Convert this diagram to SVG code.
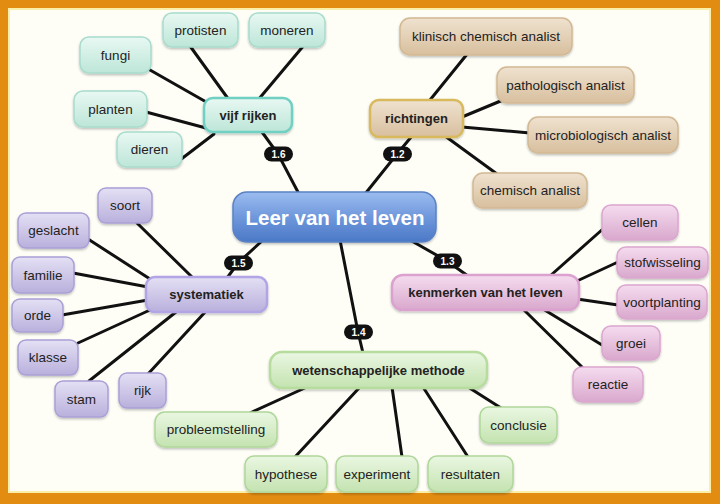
<svg xmlns="http://www.w3.org/2000/svg" width="720" height="504" viewBox="0 0 720 504">
<defs>
<linearGradient id="gTeal" x1="0" y1="0" x2="0" y2="1"><stop offset="0" stop-color="#e8f8f2"/><stop offset="1" stop-color="#bde6d8"/></linearGradient>
<linearGradient id="gTan" x1="0" y1="0" x2="0" y2="1"><stop offset="0" stop-color="#efe2cf"/><stop offset="1" stop-color="#d8bf9e"/></linearGradient>
<linearGradient id="gLav" x1="0" y1="0" x2="0" y2="1"><stop offset="0" stop-color="#e4e0f4"/><stop offset="1" stop-color="#b9b0dc"/></linearGradient>
<linearGradient id="gPink" x1="0" y1="0" x2="0" y2="1"><stop offset="0" stop-color="#f5dcef"/><stop offset="1" stop-color="#d9a8cd"/></linearGradient>
<linearGradient id="gGreen" x1="0" y1="0" x2="0" y2="1"><stop offset="0" stop-color="#eaf7e2"/><stop offset="1" stop-color="#c4e3b0"/></linearGradient>
<linearGradient id="gBlue" x1="0" y1="0" x2="0" y2="1"><stop offset="0" stop-color="#9bbcef"/><stop offset="0.5" stop-color="#6f98dc"/><stop offset="1" stop-color="#4b78c6"/></linearGradient>
<filter id="sh" x="-20%" y="-20%" width="140%" height="150%"><feDropShadow dx="0" dy="1.5" stdDeviation="1.2" flood-color="#000" flood-opacity="0.25"/></filter>
</defs>
<style>
.bg{fill:#fefef7}
.teal{fill:url(#gTeal);stroke:#a8dccd;stroke-width:1.5}
.tan{fill:url(#gTan);stroke:#d2b994;stroke-width:1.5}
.lav{fill:url(#gLav);stroke:#aaa0d6;stroke-width:1.5}
.pink{fill:url(#gPink);stroke:#dba6cf;stroke-width:1.5}
.green{fill:url(#gGreen);stroke:#b0d79a;stroke-width:1.5}
.box{filter:url(#sh)}
.hubteal{stroke:#6fd0c2;stroke-width:2.5}
.hubtan{stroke:#d8b95c;stroke-width:2.5}
.hublav{stroke:#b3a4e6;stroke-width:2.5}
.hubpink{stroke:#dca2cf;stroke-width:2.5}
.hubgreen{stroke:#b6dc9e;stroke-width:2.5}
.center{fill:url(#gBlue);stroke:#5b82c4;stroke-width:1.5}
.t{font-family:"Liberation Sans",Arial,sans-serif;font-size:13.5px;fill:#222;text-anchor:middle;dominant-baseline:central}
.tb{font-family:"Liberation Sans",Arial,sans-serif;font-size:13px;font-weight:bold;fill:#222;text-anchor:middle;dominant-baseline:central}
.tc{font-family:"Liberation Sans",Arial,sans-serif;font-size:20.5px;font-weight:bold;fill:#fff;text-anchor:middle;dominant-baseline:central}
.ln{stroke:#111;stroke-width:3;stroke-linecap:round;fill:none}
.badge{fill:#111}
.bt{font-family:"Liberation Sans",Arial,sans-serif;font-size:10px;font-weight:bold;fill:#fff;text-anchor:middle;dominant-baseline:central}
</style>
<rect x="0" y="0" width="720" height="504" fill="#e28c12"/>
<rect class="bg" x="8" y="8" width="703" height="485"/>
<rect x="9" y="9" width="701" height="483" fill="none" stroke="#fbeea8" stroke-width="2"/>

<g id="connectors">
<line class="ln" x1="190" y1="46" x2="229" y2="100"/>
<line class="ln" x1="305" y1="44" x2="258" y2="100"/>
<line class="ln" x1="150" y1="70" x2="208" y2="103"/>
<line class="ln" x1="146" y1="112" x2="206" y2="128"/>
<line class="ln" x1="180" y1="160" x2="214" y2="134"/>
<polyline class="ln" points="262,132 278,154 299,194"/>
<line class="ln" x1="468" y1="53" x2="430" y2="100"/>
<line class="ln" x1="503" y1="100" x2="462" y2="117"/>
<line class="ln" x1="462" y1="127" x2="530" y2="133"/>
<line class="ln" x1="445" y1="136" x2="497" y2="174"/>
<polyline class="ln" points="412,136 397,154 365,194"/>
<polyline class="ln" points="263,240 238,263 227,278"/>
<line class="ln" x1="137" y1="223" x2="192" y2="277"/>
<line class="ln" x1="88" y1="239" x2="150" y2="279"/>
<line class="ln" x1="73" y1="273" x2="148" y2="287"/>
<line class="ln" x1="62" y1="315" x2="148" y2="300"/>
<line class="ln" x1="78" y1="343" x2="150" y2="310"/>
<line class="ln" x1="89" y1="381" x2="176" y2="312"/>
<line class="ln" x1="148" y1="374" x2="207" y2="310"/>
<polyline class="ln" points="410,240 447,261 468,276"/>
<line class="ln" x1="604" y1="228" x2="550" y2="276"/>
<line class="ln" x1="618" y1="262" x2="577" y2="281"/>
<line class="ln" x1="577" y1="299" x2="618" y2="305"/>
<line class="ln" x1="543" y1="309" x2="602" y2="345"/>
<line class="ln" x1="523" y1="309" x2="582" y2="367"/>
<polyline class="ln" points="340,240 358,332 363,353"/>
<line class="ln" x1="250" y1="413" x2="307" y2="387"/>
<line class="ln" x1="295" y1="457" x2="360" y2="387"/>
<line class="ln" x1="402" y1="457" x2="392" y2="387"/>
<line class="ln" x1="468" y1="457" x2="423" y2="387"/>
<line class="ln" x1="468" y1="387" x2="501" y2="408"/>
</g>

<g id="badge-1-6"><rect class="badge" x="264" y="146.5" width="29" height="15" rx="7.5"/><text class="bt" x="278.5" y="154">1.6</text></g>
<g id="badge-1-2"><rect class="badge" x="383" y="146.5" width="29" height="15" rx="7.5"/><text class="bt" x="397.5" y="154">1.2</text></g>
<g id="badge-1-5"><rect class="badge" x="224" y="255.5" width="29" height="15" rx="7.5"/><text class="bt" x="238.5" y="263">1.5</text></g>
<g id="badge-1-3"><rect class="badge" x="433" y="253.5" width="29" height="15" rx="7.5"/><text class="bt" x="447.5" y="261">1.3</text></g>
<g id="badge-1-4"><rect class="badge" x="344" y="324.5" width="29" height="15" rx="7.5"/><text class="bt" x="358.5" y="332">1.4</text></g>

<g id="center"><rect class="center box" x="233" y="192" width="203" height="50" rx="14"/><text class="tc" x="335" y="217">Leer van het leven</text></g>

<g id="vijf-rijken"><rect class="teal hubteal box" x="204" y="98" width="88" height="34" rx="9"/><text class="tb" x="248" y="115">vijf rijken</text></g>
<g id="protisten"><rect class="teal box" x="163" y="13" width="75" height="34" rx="9"/><text class="t" x="200.5" y="30">protisten</text></g>
<g id="moneren"><rect class="teal box" x="249" y="13" width="76" height="34" rx="9"/><text class="t" x="287" y="30">moneren</text></g>
<g id="fungi"><rect class="teal box" x="80" y="37" width="71" height="36" rx="9"/><text class="t" x="115.5" y="55">fungi</text></g>
<g id="planten"><rect class="teal box" x="74" y="91" width="73" height="36" rx="9"/><text class="t" x="110.5" y="109">planten</text></g>
<g id="dieren"><rect class="teal box" x="117" y="132" width="65" height="35" rx="9"/><text class="t" x="149.5" y="149.5">dieren</text></g>

<g id="richtingen"><rect class="tan hubtan box" x="370" y="100" width="93" height="37" rx="9"/><text class="tb" x="416.5" y="118.5">richtingen</text></g>
<g id="klinisch"><rect class="tan box" x="400" y="18" width="172" height="37" rx="10"/><text class="t" x="486" y="36.5">klinisch chemisch analist</text></g>
<g id="pathologisch"><rect class="tan box" x="497" y="67" width="137" height="36" rx="10"/><text class="t" x="565.5" y="85">pathologisch analist</text></g>
<g id="microbiologisch"><rect class="tan box" x="528" y="117" width="150" height="36" rx="10"/><text class="t" x="603" y="135">microbiologisch analist</text></g>
<g id="chemisch"><rect class="tan box" x="473" y="173" width="114" height="35" rx="10"/><text class="t" x="530" y="190.5">chemisch analist</text></g>

<g id="systematiek"><rect class="lav hublav box" x="146" y="277" width="121" height="35" rx="9"/><text class="tb" x="206.5" y="294.5">systematiek</text></g>
<g id="soort"><rect class="lav box" x="98" y="188" width="54" height="35" rx="8"/><text class="t" x="125" y="205.5">soort</text></g>
<g id="geslacht"><rect class="lav box" x="18" y="213" width="71" height="35" rx="8"/><text class="t" x="53.5" y="230.5">geslacht</text></g>
<g id="familie"><rect class="lav box" x="12" y="257" width="62" height="36" rx="8"/><text class="t" x="43" y="275">familie</text></g>
<g id="orde"><rect class="lav box" x="12" y="299" width="51" height="33" rx="8"/><text class="t" x="37.5" y="315.5">orde</text></g>
<g id="klasse"><rect class="lav box" x="18" y="340" width="60" height="35" rx="8"/><text class="t" x="48" y="357.5">klasse</text></g>
<g id="stam"><rect class="lav box" x="55" y="381" width="53" height="36" rx="8"/><text class="t" x="81.5" y="399">stam</text></g>
<g id="rijk"><rect class="lav box" x="119" y="373" width="47" height="35" rx="8"/><text class="t" x="142.5" y="390.5">rijk</text></g>

<g id="kenmerken"><rect class="pink hubpink box" x="392" y="275" width="187" height="35" rx="11"/><text class="tb" x="485.5" y="292.5">kenmerken van het leven</text></g>
<g id="cellen"><rect class="pink box" x="602" y="205" width="76" height="35" rx="9"/><text class="t" x="640" y="222.5">cellen</text></g>
<g id="stofwisseling"><rect class="pink box" x="617" y="247" width="91" height="31" rx="9"/><text class="t" x="662.5" y="262.5">stofwisseling</text></g>
<g id="voortplanting"><rect class="pink box" x="617" y="285" width="90" height="34" rx="9"/><text class="t" x="662" y="302">voortplanting</text></g>
<g id="groei"><rect class="pink box" x="602" y="326" width="58" height="34" rx="9"/><text class="t" x="631" y="343">groei</text></g>
<g id="reactie"><rect class="pink box" x="573" y="367" width="70" height="35" rx="9"/><text class="t" x="608" y="384.5">reactie</text></g>

<g id="methode"><rect class="green hubgreen box" x="270" y="352" width="217" height="36" rx="12"/><text class="tb" x="378.5" y="370">wetenschappelijke methode</text></g>
<g id="probleemstelling"><rect class="green box" x="155" y="412" width="122" height="35" rx="10"/><text class="t" x="216" y="429.5">probleemstelling</text></g>
<g id="hypothese"><rect class="green box" x="245" y="456" width="82" height="36" rx="9"/><text class="t" x="286" y="474">hypothese</text></g>
<g id="experiment"><rect class="green box" x="336" y="456" width="82" height="36" rx="9"/><text class="t" x="377" y="474">experiment</text></g>
<g id="resultaten"><rect class="green box" x="428" y="456" width="85" height="36" rx="9"/><text class="t" x="470.5" y="474">resultaten</text></g>
<g id="conclusie"><rect class="green box" x="480" y="407" width="77" height="36" rx="9"/><text class="t" x="518.5" y="425">conclusie</text></g>
</svg>
